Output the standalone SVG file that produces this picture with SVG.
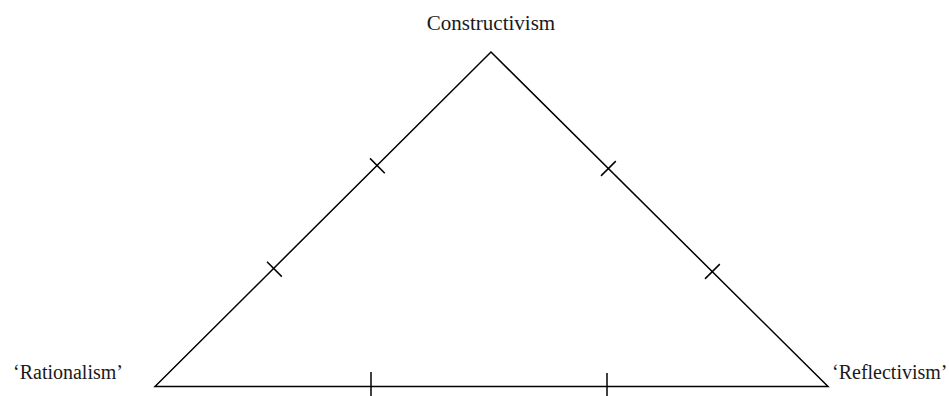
<svg xmlns="http://www.w3.org/2000/svg" width="949" height="396" viewBox="0 0 949 396">
<style>
.l{stroke:#000;stroke-width:1.5;fill:none;stroke-linecap:butt}
.t{font-family:"Liberation Serif","Times New Roman",serif;font-size:20px;fill:#1a1a1a}
</style>
<rect width="949" height="396" fill="#fff"/>
<g id="connectors">
<path class="l" d="M155 386.5 L491 52 L828 386.5 Z" stroke-linejoin="miter"/>
<line class="l" x1="267" y1="261.8" x2="281.8" y2="276.6"/>
<line class="l" x1="370" y1="158.4" x2="384.8" y2="173.2"/>
<line class="l" x1="601" y1="175.9" x2="615.8" y2="161.1"/>
<line class="l" x1="705" y1="278.9" x2="719.8" y2="264.1"/>
<line class="l" x1="371" y1="372" x2="371" y2="400"/>
<line class="l" x1="607" y1="373" x2="607" y2="400"/>
</g>
<g id="constructivism"><text class="t" x="491" y="30" text-anchor="middle" style="font-size:21px">Constructivism</text></g>
<g id="rationalism"><text class="t" x="13" y="379">‘Rationalism’</text></g>
<g id="reflectivism"><text class="t" x="832" y="379">‘Reflectivism’</text></g>
</svg>
